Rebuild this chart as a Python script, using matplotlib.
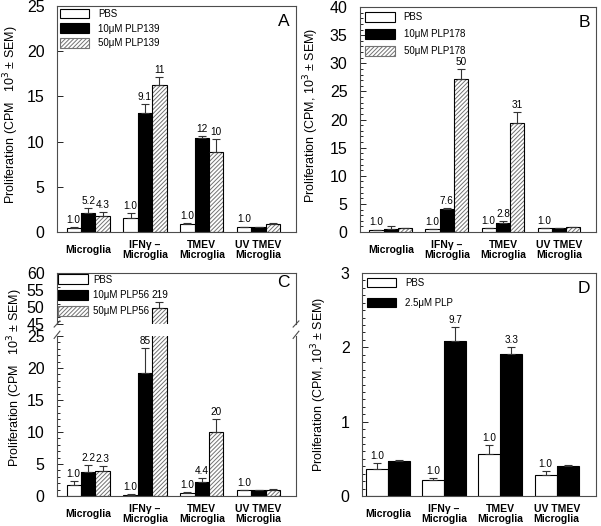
"""Microglia proliferation in response to PLP peptides (panels A-D)."""

from matplotlib import pyplot
from matplotlib.patches import Patch
from matplotlib.ticker import MultipleLocator
import numpy

groups = ['Microglia', 'IFN\u03b3 \u2013\nMicroglia', 'TMEV\nMicroglia',
          'UV TMEV\nMicroglia']

# Panel A: PLP139
a_labels = ['PBS', '10\u03bcM PLP139', '50\u03bcM PLP139']
a_means = [[0.45, 1.5, 0.93, 0.55],
           [2.1, 13.2, 10.4, 0.5],
           [1.8, 16.3, 8.9, 0.9]]
a_errs = [[0.05, 0.6, 0.07, 0.05],
          [0.55, 1.0, 0.25, 0.03],
          [0.4, 0.85, 1.35, 0.07]]
a_notes = [['1.0', '1.0', '1.0', '1.0'],
           ['5.2', '9.1', '12', ''],
           ['4.3', '11', '10', '']]

# Panel B: PLP178
b_labels = ['PBS', '10\u03bcM PLP178', '50\u03bcM PLP178']
b_means = [[0.4, 0.5, 0.65, 0.65],
           [0.5, 4.1, 1.6, 0.75],
           [0.65, 27.2, 19.4, 0.9]]
b_errs = [[0.03, 0.03, 0.07, 0.03],
          [0.5, 0.2, 0.4, 0.05],
          [0.05, 1.8, 1.9, 0.05]]
b_notes = [['1.0', '1.0', '1.0', '1.0'],
           ['', '7.6', '2.8', ''],
           ['', '50', '31', '']]

# Panel C: PLP56 (broken axis)
c_labels = ['PBS', '10\u03bcM PLP56', '50\u03bcM PLP56']
c_means = [[1.65, 0.2, 0.5, 0.9],
           [3.7, 19.25, 2.2, 0.9],
           [3.9, 49.8, 10.0, 1.0]]
c_errs = [[0.65, 0.05, 0.15, 0.08],
          [1.1, 3.85, 0.55, 0.05],
          [0.75, 1.6, 2.0, 0.05]]
c_notes = [['1.0', '1.0', '1.0', '1.0'],
           ['2.2', '85', '4.4', ''],
           ['2.3', '219', '20', '']]

# Panel D: 2.5 uM PLP
d_labels = ['PBS', '2.5\u03bcM PLP']
d_means = [[0.36, 0.21, 0.57, 0.28],
           [0.47, 2.08, 1.91, 0.40]]
d_errs = [[0.08, 0.03, 0.12, 0.06],
          [0.01, 0.19, 0.10, 0.015]]
d_notes = [['1.0', '1.0', '1.0', '1.0'],
           ['', '9.7', '3.3', '']]

pyplot.rc('font', family=['Liberation Sans', 'DejaVu Sans'], size=10)
pyplot.rc('hatch', linewidth=0.7)

W, H = 601, 526
STYLES = [dict(facecolor='white', edgecolor='black'),
          dict(facecolor='black', edgecolor='black'),
          dict(facecolor='white', edgecolor='0.45', hatch='////////')]


def box(x0, y0, x1, y1):
    """Axes rectangle from pixel corners (top-left origin)."""
    return [x0 / W, 1 - y1 / H, (x1 - x0) / W, (y1 - y0) / H]


def draw_bars(axs, means, errs, notes, width):
    n = len(means)
    x = numpy.arange(len(groups))
    offsets = (numpy.arange(n) - (n - 1) / 2) * width
    for i in range(n):
        st = STYLES[i]
        for ax in axs:
            ax.bar(x + offsets[i], means[i], width, linewidth=0, **st)
            ax.bar(x + offsets[i], means[i], width, fill=False,
                   edgecolor='black', linewidth=0.8)
            ax.errorbar(x + offsets[i], means[i],
                        yerr=[numpy.zeros(len(x)), errs[i]],
                        fmt='none', ecolor='0.2', elinewidth=0.8,
                        capsize=3, capthick=0.8)
        for j, txt in enumerate(notes[i]):
            if not txt:
                continue
            top = means[i][j] + errs[i][j]
            ax = axs[0]
            for a in axs:
                lo, hi = a.get_ylim()
                if lo <= top <= hi:
                    ax = a
            ax.annotate(txt, (x[j] + offsets[i], top), xytext=(0, 1.5),
                        textcoords='offset points', ha='center',
                        va='bottom', fontsize=7.2)


def style_axis(ax, ymax, major, minor, ymin=0):
    ax.set_ylim(ymin, ymax)
    ax.yaxis.set_major_locator(MultipleLocator(major))
    if minor:
        ax.yaxis.set_minor_locator(MultipleLocator(minor))
    ax.tick_params(axis='y', which='major', direction='in', length=4,
                   width=0.6, labelsize=11.5, pad=9)
    ax.tick_params(axis='y', which='minor', direction='in', length=2,
                   width=0.6)
    ax.tick_params(axis='x', length=0)
    for sp in ax.spines.values():
        sp.set_linewidth(0.8)
        sp.set_color('0.3')


def set_groups(ax, xmin, xmax):
    ax.set_xlim(xmin, xmax)
    ax.set_xticks(numpy.arange(len(groups)))
    ax.set_xticklabels(groups, fontsize=7.5, fontweight='bold',
                       linespacing=1.1)
    for lab in ax.get_xticklabels():
        lab.set_verticalalignment('center')
    ax.tick_params(axis='x', pad=13)


def add_legend(ax, labels, spacing, pad, textpad=0.93):
    handles = [Patch(linewidth=0.8, **STYLES[i]) for i in range(len(labels))]
    ax.legend(handles, labels, loc='upper left', frameon=False, fontsize=7,
              handlelength=3.0, handleheight=1.13, handletextpad=textpad,
              labelspacing=spacing, borderaxespad=pad, borderpad=0.1)


def letter(ax, s):
    ax.text(0.975, 0.965, s, transform=ax.transAxes, ha='right', va='top',
            fontsize=12.5)


fig = pyplot.figure(figsize=(W / 100, H / 100), dpi=100)
ylab_a = 'Proliferation (CPM   10$^3$ \u00b1 SEM)'
ylab_b = 'Proliferation (CPM, 10$^3$ \u00b1 SEM)'

# Panel A
ax = fig.add_axes(box(57, 6, 296, 232))
style_axis(ax, 25, 5, None)
draw_bars([ax], a_means, a_errs, a_notes, 0.255)
set_groups(ax, -0.55, 3.66)
add_legend(ax, a_labels, 0.46, 0.2)
letter(ax, 'A')
ax.set_ylabel(ylab_a, fontsize=9)
ax.yaxis.set_label_coords(-0.15, 0.52)

# Panel B
ax = fig.add_axes(box(360, 7, 596, 232))
style_axis(ax, 40, 5, 1)
draw_bars([ax], b_means, b_errs, b_notes, 0.255)
set_groups(ax, -0.55, 3.66)
add_legend(ax, b_labels, 0.7, 0.45)
letter(ax, 'B')
ax.set_ylabel(ylab_b, fontsize=9)
ax.yaxis.set_label_coords(-0.165, 0.52)

# Panel C: broken y axis
ax_up = fig.add_axes(box(57, 273, 296, 324))
ax_lo = fig.add_axes(box(57, 336, 296, 496))
style_axis(ax_up, 60, 5, 1, ymin=45)
style_axis(ax_lo, 25, 5, 1)
draw_bars([ax_lo, ax_up], c_means, c_errs, c_notes, 0.255)
set_groups(ax_lo, -0.55, 3.66)
ax_up.set_xlim(-0.55, 3.66)
ax_up.set_xticks([])
ax_up.spines['bottom'].set_visible(False)
ax_lo.spines['top'].set_visible(False)
add_legend(ax_up, c_labels, 0.6, 0.05, textpad=0.6)
letter(ax_up, 'C')
# break marks
kw = dict(color='0.3', linewidth=0.8, clip_on=False)
for xa in (0, 1):
    ax_up.plot([xa - 0.012, xa + 0.012], [-0.06, 0.06],
               transform=ax_up.transAxes, **kw)
    ax_lo.plot([xa - 0.012, xa + 0.012], [0.985, 1.03],
               transform=ax_lo.transAxes, **kw)
fig.text(15 / W, 1 - 378 / H, ylab_a, rotation=90, ha='center',
         va='center', fontsize=9)

# Panel D
ax = fig.add_axes(box(362, 273, 596, 496))
style_axis(ax, 3, 1, 0.1)
draw_bars([ax], d_means, d_errs, d_notes, 0.39)
set_groups(ax, -0.46, 3.7)
add_legend(ax, d_labels, 1.0, 0.4)
letter(ax, 'D')
ax.set_ylabel(ylab_b, fontsize=9)
ax.yaxis.set_label_coords(-0.141, 0.5)

fig.savefig('out.png', dpi=100)
